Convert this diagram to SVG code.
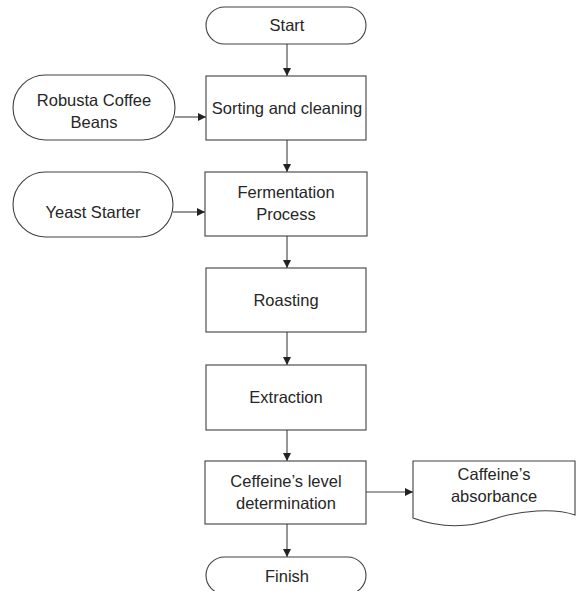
<svg xmlns="http://www.w3.org/2000/svg" width="580" height="591" viewBox="0 0 580 591">
<style>
.s{fill:#fff;stroke:#404040;stroke-width:1.1}
.t{font-family:"Liberation Sans",Arial,sans-serif;font-size:16.5px;fill:#262626;text-anchor:middle}
.c{stroke:#404040;stroke-width:1.1;fill:none}
</style>
<defs>
<marker id="a" viewBox="0 0 10 10" refX="10" refY="5" markerWidth="8" markerHeight="8" markerUnits="userSpaceOnUse" orient="auto">
<path d="M0,0 L10,5 L0,10 z" fill="#222"/>
</marker>
</defs>
<g id="connectors">
<line class="c" x1="287" y1="44" x2="287" y2="76" marker-end="url(#a)"/>
<line class="c" x1="287" y1="140" x2="287" y2="172" marker-end="url(#a)"/>
<line class="c" x1="287" y1="236" x2="287" y2="268" marker-end="url(#a)"/>
<line class="c" x1="287" y1="332" x2="287" y2="365" marker-end="url(#a)"/>
<line class="c" x1="287" y1="430" x2="287" y2="461" marker-end="url(#a)"/>
<line class="c" x1="287" y1="524" x2="287" y2="557" marker-end="url(#a)"/>
<line class="c" x1="175" y1="117" x2="206" y2="117" marker-end="url(#a)"/>
<line class="c" x1="173" y1="212" x2="205" y2="212" marker-end="url(#a)"/>
<line class="c" x1="366" y1="492" x2="413" y2="492" marker-end="url(#a)"/>
</g>
<g id="start">
<rect class="s" x="206" y="7" width="160" height="37" rx="18.5"/>
<text class="t" x="287" y="31">Start</text>
</g>
<g id="robusta">
<rect class="s" x="13" y="75" width="162" height="65" rx="32.5"/>
<text class="t" x="94" y="106">Robusta Coffee</text>
<text class="t" x="94" y="128">Beans</text>
</g>
<g id="sorting">
<rect class="s" x="206" y="76" width="160" height="64"/>
<text class="t" x="287" y="114">Sorting and cleaning</text>
</g>
<g id="yeast">
<rect class="s" x="13" y="172" width="160" height="65" rx="32.5"/>
<text class="t" x="93" y="218">Yeast Starter</text>
</g>
<g id="fermentation">
<rect class="s" x="205" y="172" width="162" height="64"/>
<text class="t" x="286" y="198">Fermentation</text>
<text class="t" x="286" y="220">Process</text>
</g>
<g id="roasting">
<rect class="s" x="206" y="268" width="160" height="64"/>
<text class="t" x="286" y="306">Roasting</text>
</g>
<g id="extraction">
<rect class="s" x="206" y="365" width="160" height="65"/>
<text class="t" x="286" y="403">Extraction</text>
</g>
<g id="ceffeine">
<rect class="s" x="205" y="461" width="161" height="63"/>
<text class="t" x="286" y="487">Ceffeine’s level</text>
<text class="t" x="286" y="509">determination</text>
</g>
<g id="absorbance">
<path class="s" d="M413,461 H575 V515 C555,508 520,510 494,519 C468,528 440,528 413,518 Z"/>
<text class="t" x="494" y="480">Caffeine’s</text>
<text class="t" x="494" y="502">absorbance</text>
</g>
<g id="finish">
<rect class="s" x="206" y="557" width="160" height="37" rx="18.5"/>
<text class="t" x="287" y="582">Finish</text>
</g>
</svg>
